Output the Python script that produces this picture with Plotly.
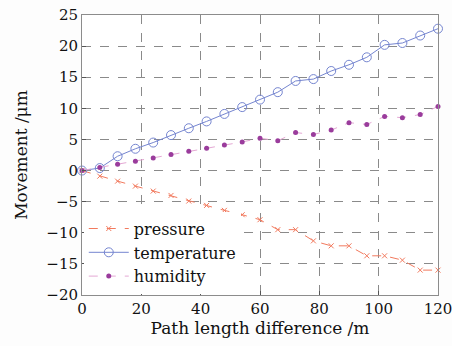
import plotly.graph_objects as go

x_vals = [0, 6, 12, 18, 24, 30, 36, 42, 48, 54, 60, 66, 72, 78, 84, 90, 96, 102, 108, 114, 120]
pressure = [0, -0.9, -1.7, -2.5, -3.3, -4.0, -4.9, -5.6, -6.4, -7.1, -7.9, -9.5, -9.5, -11.3, -12.1, -12.1, -13.7, -13.7, -14.4, -16.0, -16.0]
temperature = [0, 0.4, 2.3, 3.5, 4.5, 5.7, 6.8, 7.9, 9.1, 10.2, 11.4, 12.6, 14.4, 14.7, 16.0, 17.0, 18.2, 20.2, 20.5, 21.7, 22.8]
humidity = [0, 0.5, 1.0, 1.5, 2.0, 2.6, 3.1, 3.6, 4.1, 4.6, 5.2, 4.8, 6.1, 5.8, 6.5, 7.7, 7.4, 8.7, 8.5, 9.0, 10.3]
x_ticks = [0, 20, 40, 60, 80, 100, 120]
y_ticks = [25, 20, 15, 10, 5, 0, -5, -10, -15, -20]

FONT = "DejaVu Serif"

fig = go.Figure()
fig.add_trace(go.Scatter(
    x=x_vals, y=pressure, name="pressure", mode="lines+markers", cliponaxis=False,
    line=dict(color="#f27a5e", width=1, dash="dash"),
    marker=dict(symbol="x-thin-open", size=5, color="#f27a5e", line=dict(color="#f27a5e", width=1)),
))
fig.add_trace(go.Scatter(
    x=x_vals, y=temperature, name="temperature", mode="lines+markers", cliponaxis=False,
    line=dict(color="#7585d0", width=1),
    marker=dict(symbol="circle-open", size=9, color="#7585d0", line=dict(color="#7585d0", width=1)),
))
fig.add_trace(go.Scatter(
    x=x_vals, y=humidity, name="humidity", mode="lines+markers", cliponaxis=False,
    line=dict(color="#e4a8d4", width=1, dash="dash"),
    marker=dict(symbol="circle", size=5, color="#9a3c9c"),
))

axis_common = dict(
    showline=True, mirror=True, linecolor="#8c8c8c", linewidth=1,
    showgrid=True, gridcolor="#8a8a8a", griddash="dash", gridwidth=1,
    zeroline=False, ticks="inside", ticklen=4, tickcolor="#555",
    ticklabeloverflow="allow", automargin=False,
    tickfont=dict(family=FONT, size=15, color="#111"),
)

fig.update_xaxes(range=[0, 120], tickvals=x_ticks,
                 title=dict(text="Path length difference /m", font=dict(family=FONT, size=17, color="#111"), standoff=2),
                 **axis_common)
fig.update_yaxes(range=[-20, 25], tickvals=y_ticks,
                 ticktext=[str(v).replace("-", "\u2212") for v in y_ticks],
                 title=dict(text="Movement /\u03bcm", font=dict(family=FONT, size=17, color="#111"), standoff=14),
                 **axis_common)

fig.update_layout(
    width=452, height=346,
    margin=dict(l=82, r=14, t=15, b=51),
    paper_bgcolor="#fdfdfd", plot_bgcolor="white",
    showlegend=True,
    legend=dict(x=0.005, y=0.005, xanchor="left", yanchor="bottom",
                bgcolor="white", borderwidth=0,
                font=dict(family=FONT, size=16, color="#111"),
                itemwidth=40, tracegroupgap=0),
)

fig.write_html("out.html", config={"displayModeBar": False},
               post_script="document.body.style.margin='0';")
